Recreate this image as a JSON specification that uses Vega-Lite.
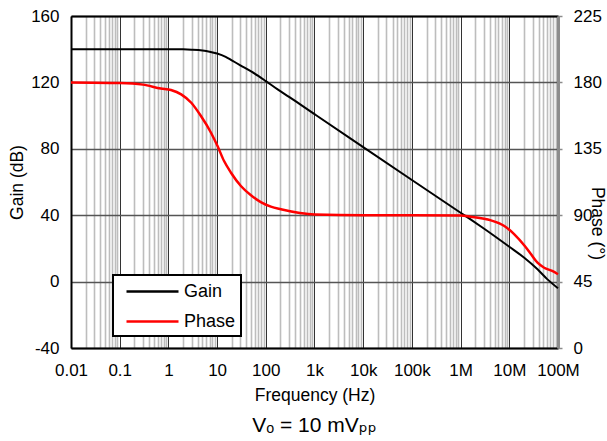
{
  "$schema": "https://vega.github.io/schema/vega-lite/v6.json",
  "width": 487,
  "height": 332,
  "padding": {"left": 8, "top": 7, "right": 5, "bottom": 5},
  "background": "white",
  "config": {
    "view": {"stroke": null},
    "font": "Liberation Sans",
    "axis": {"labelFont": "Liberation Sans", "titleFont": "Liberation Sans", "labelColor": "#000000", "titleColor": "#000000", "titleFontWeight": "normal", "labelFontSize": 17, "titleFontSize": 17.5}
  },
  "title": {"text": "Vₒ = 10 mVₚₚ", "orient": "bottom", "anchor": "middle", "fontSize": 21, "fontWeight": "normal", "font": "Liberation Sans, DejaVu Sans", "color": "#000000", "offset": 11},
  "data": {"values": [
    {"freq": 0.01, "series": "Gain", "value": 140},
    {"freq": 0.1, "series": "Gain", "value": 140},
    {"freq": 1, "series": "Gain", "value": 140},
    {"freq": 2, "series": "Gain", "value": 139.9},
    {"freq": 3, "series": "Gain", "value": 139.7},
    {"freq": 5, "series": "Gain", "value": 139.2},
    {"freq": 7, "series": "Gain", "value": 138.5},
    {"freq": 10, "series": "Gain", "value": 137.4},
    {"freq": 15, "series": "Gain", "value": 135.4},
    {"freq": 20, "series": "Gain", "value": 133.3},
    {"freq": 30, "series": "Gain", "value": 130.3},
    {"freq": 50, "series": "Gain", "value": 126.6},
    {"freq": 70, "series": "Gain", "value": 123.9},
    {"freq": 100, "series": "Gain", "value": 120.8},
    {"freq": 175, "series": "Gain", "value": 115.8},
    {"freq": 300, "series": "Gain", "value": 111.3},
    {"freq": 500, "series": "Gain", "value": 106.9},
    {"freq": 1000, "series": "Gain", "value": 100.9},
    {"freq": 10000, "series": "Gain", "value": 81},
    {"freq": 100000, "series": "Gain", "value": 61.2},
    {"freq": 1000000, "series": "Gain", "value": 41.5},
    {"freq": 1600000, "series": "Gain", "value": 37.5},
    {"freq": 3000000, "series": "Gain", "value": 32},
    {"freq": 10000000, "series": "Gain", "value": 21},
    {"freq": 20000000, "series": "Gain", "value": 14.5},
    {"freq": 38000000, "series": "Gain", "value": 7.4},
    {"freq": 60000000, "series": "Gain", "value": 1.5},
    {"freq": 100000000, "series": "Gain", "value": -4},
    {"freq": 0.01, "series": "Phase", "value": 180},
    {"freq": 0.1, "series": "Phase", "value": 179.6},
    {"freq": 0.3, "series": "Phase", "value": 178.5},
    {"freq": 0.7, "series": "Phase", "value": 175.8},
    {"freq": 1.13, "series": "Phase", "value": 174.8},
    {"freq": 1.83, "series": "Phase", "value": 171.9},
    {"freq": 2.95, "series": "Phase", "value": 166.2},
    {"freq": 4.66, "series": "Phase", "value": 157.2},
    {"freq": 7.5, "series": "Phase", "value": 145.9},
    {"freq": 10.2, "series": "Phase", "value": 136.9},
    {"freq": 13.9, "series": "Phase", "value": 126.7},
    {"freq": 19.3, "series": "Phase", "value": 118.8},
    {"freq": 30.8, "series": "Phase", "value": 109.8},
    {"freq": 49.6, "series": "Phase", "value": 103.5},
    {"freq": 79, "series": "Phase", "value": 98.9},
    {"freq": 127, "series": "Phase", "value": 95.8},
    {"freq": 204, "series": "Phase", "value": 94},
    {"freq": 500, "series": "Phase", "value": 91.5},
    {"freq": 1000, "series": "Phase", "value": 90.5},
    {"freq": 10000, "series": "Phase", "value": 90},
    {"freq": 100000, "series": "Phase", "value": 90},
    {"freq": 1000000, "series": "Phase", "value": 89.8},
    {"freq": 1600000, "series": "Phase", "value": 89},
    {"freq": 4200000, "series": "Phase", "value": 86.5},
    {"freq": 7900000, "series": "Phase", "value": 82.7},
    {"freq": 12700000, "series": "Phase", "value": 77},
    {"freq": 20800000, "series": "Phase", "value": 69.1},
    {"freq": 28000000, "series": "Phase", "value": 63.5},
    {"freq": 38000000, "series": "Phase", "value": 57.8},
    {"freq": 52000000, "series": "Phase", "value": 54.4},
    {"freq": 76000000, "series": "Phase", "value": 52.2},
    {"freq": 100000000, "series": "Phase", "value": 50}
  ]},
  "layer": [
    {
      "transform": [{"filter": "datum.series === 'Gain'"}],
      "mark": {"type": "line", "strokeWidth": 2, "interpolate": "monotone"},
      "encoding": {
        "x": {
          "field": "freq", "type": "quantitative",
          "scale": {"type": "log", "domain": [0.01, 100000000], "nice": false},
          "axis": {
            "orient": "bottom",
            "values": [0.01, 0.1, 1, 10, 100, 1000, 10000, 100000, 1000000, 10000000, 100000000],
            "labelExpr": "datum.value < 1 ? toString(datum.value) : format(datum.value, '~s')",
            "grid": true, "gridColor": "#333333", "gridWidth": 1,
            "ticks": false, "labelPadding": 14, "labelFlush": false, "labelOverlap": false,
            "domainColor": "#000000", "domainWidth": 2,
            "title": "Frequency (Hz)", "titlePadding": 8
          }
        },
        "y": {
          "field": "value", "type": "quantitative",
          "scale": {"domain": [-40, 160], "nice": false},
          "axis": {
            "orient": "left",
            "values": [-40, 0, 40, 80, 120, 160],
            "labelExpr": "toString(datum.value)",
            "grid": true, "gridColor": "#555555", "gridWidth": 1.5,
            "ticks": false, "labelPadding": 12,
            "domainColor": "#000000", "domainWidth": 2,
            "title": "Gain (dB)", "titlePadding": 4
          }
        },
        "color": {
          "field": "series", "type": "nominal",
          "scale": {"domain": ["Gain", "Phase"], "range": ["#000000", "#ff0000"]},
          "legend": {
            "orient": "none", "legendX": 42, "legendY": 259,
            "title": null,
            "symbolType": "M-2.6,0H2.6", "symbolSize": 400, "symbolStrokeWidth": 2.5,
            "symbolOffset": 23,
            "labelFontSize": 18, "labelFont": "Liberation Sans", "labelColor": "#000000",
            "labelOffset": 20, "padding": 5, "rowPadding": 9,
            "strokeColor": "#000000", "fillColor": "#ffffff",
            "encode": {"legend": {"update": {"strokeWidth": {"value": 2}}}}
          }
        }
      }
    },
    {
      "transform": [{"filter": "datum.series === 'Phase'"}],
      "mark": {"type": "line", "strokeWidth": 2.5, "interpolate": "monotone"},
      "encoding": {
        "x": {
          "field": "freq", "type": "quantitative",
          "axis": {
            "orient": "top",
            "values": [0.02,0.03,0.04,0.05,0.06,0.07,0.08,0.09,0.2,0.3,0.4,0.5,0.6,0.7,0.8,0.9,2,3,4,5,6,7,8,9,20,30,40,50,60,70,80,90,200,300,400,500,600,700,800,900,2000,3000,4000,5000,6000,7000,8000,9000,20000,30000,40000,50000,60000,70000,80000,90000,200000,300000,400000,500000,600000,700000,800000,900000,2000000,3000000,4000000,5000000,6000000,7000000,8000000,9000000,20000000,30000000,40000000,50000000,60000000,70000000,80000000,90000000],
            "grid": true, "gridColor": "#bdbdbd", "gridWidth": 1.6,
            "labels": false, "ticks": false,
            "domainColor": "#000000", "domainWidth": 2,
            "title": null
          }
        },
        "y": {
          "field": "value", "type": "quantitative",
          "scale": {"domain": [0, 225], "nice": false},
          "axis": {
            "orient": "right",
            "values": [0, 45, 90, 135, 180, 225],
            "grid": false,
            "ticks": true, "tickColor": "#8c8c8c", "tickSize": 4, "tickWidth": 1.5,
            "labelPadding": 11,
            "domainColor": "#8c8c8c", "domainWidth": 3,
            "title": "Phase (°)", "titleAngle": 90, "titleX": 38, "titleY": 207,
            "titleAlign": "center", "titleBaseline": "middle"
          }
        },
        "color": {"field": "series", "type": "nominal"}
      }
    }
  ],
  "resolve": {"scale": {"y": "independent"}, "axis": {"x": "independent", "y": "independent"}}
}
